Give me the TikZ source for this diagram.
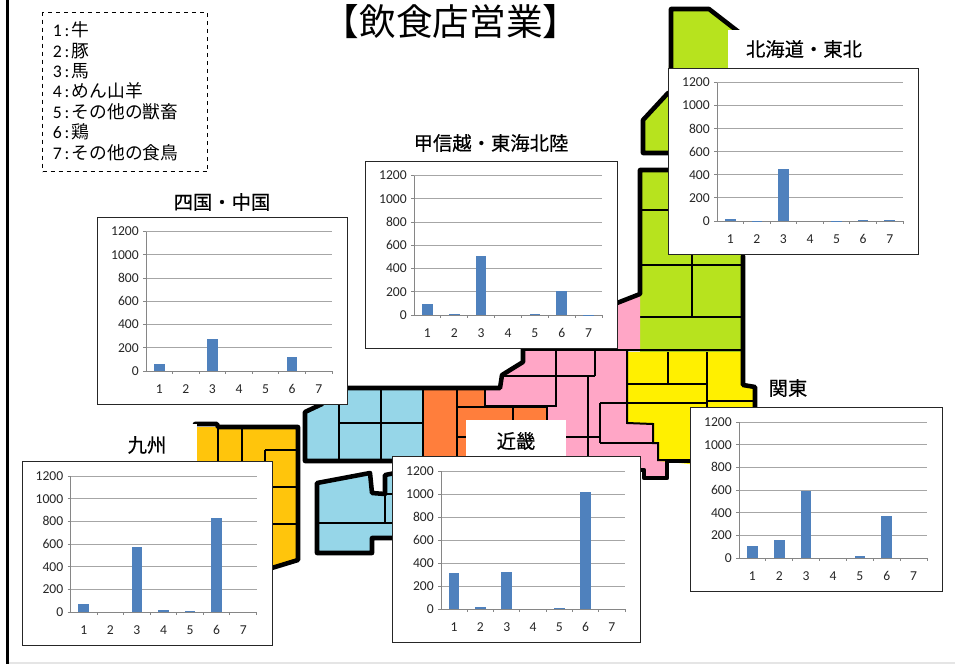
\documentclass[tikz,border=0pt]{standalone}
\usepackage{fontspec}
\setmainfont{Carlito}
\newfontfamily\cjk{Noto Sans CJK JP}
\newfontfamily\cjkheavy[FakeBold=0.35]{Noto Sans CJK JP}
\definecolor{cgreen}{HTML}{B7E31E}
\definecolor{cpink}{HTML}{FFA6C6}
\definecolor{cyellow}{HTML}{FFF000}
\definecolor{corange}{HTML}{FF7E3C}
\definecolor{cblue}{HTML}{96D6E8}
\definecolor{cgold}{HTML}{FFC50C}
\definecolor{cbar}{HTML}{4F81BD}
\definecolor{cgrid}{HTML}{A6A6A6}
\definecolor{caxis}{HTML}{868686}
\definecolor{ctext}{HTML}{262626}
\tikzset{
  inner/.style={draw=black,line width=1.5pt},
  coast/.style={draw=black,line width=3.4pt,line join=round,line cap=round},
  chartbox/.style={draw=black!85,line width=1pt,fill=white},
  gridline/.style={draw=cgrid,line width=0.75pt},
  axisline/.style={draw=caxis,line width=0.75pt},
  barfill/.style={fill=cbar},
  ticklabel/.style={font=\fontsize{10.2}{11}\selectfont,text=ctext,inner sep=0pt},
  regiontitle/.style={font=\cjkheavy\fontsize{14.5}{15}\selectfont,text=black,inner sep=0pt},
  whitepatch/.style={fill=white,draw=none},
}
\newcommand{\legline}[2]{\makebox[14.3pt][l]{#1\,:}{\cjk #2}}
% #1 name, #2 left, #3 top, #4 width, #5 height, #6 values
\newcommand{\barchart}[6]{%
  \begin{scope}[shift={(#2,#3)}]
    \node[chartbox,inner sep=0pt,anchor=north west,
          minimum width=#4*0.75pt,minimum height=#5*0.75pt] (#1) at (0,0) {};
    \pgfmathsetmacro{\pzero}{#5-33}
    \pgfmathsetmacro{\pscale}{(#5-33-15)/1200}
    \pgfmathsetmacro{\pstep}{(#4-49-15)/7}
    \foreach \g in {200,400,...,1200}{
      \draw[gridline] (49,{\pzero-\g*\pscale}) -- (#4-15,{\pzero-\g*\pscale});
    }
    \foreach \g in {0,200,...,1200}{
      \draw[axisline] (46,{\pzero-\g*\pscale}) -- (49,{\pzero-\g*\pscale});
      \node[ticklabel,anchor=east] at (42,{\pzero-\g*\pscale}) {\g};
    }
    \draw[axisline] (49,{\pzero-1200*\pscale}) -- (49,\pzero) -- (#4-15,\pzero);
    \foreach \v [count=\i] in {#6}{
      \pgfmathsetmacro{\cx}{49+(\i-0.5)*\pstep}
      \ifdim\v pt>0pt
        \fill[barfill] ({\cx-5.3},\pzero) rectangle ({\cx+5.3},{\pzero-\v*\pscale});
      \fi
      \draw[axisline] ({49+\i*\pstep},\pzero) -- ({49+\i*\pstep},\pzero+3);
      \node[ticklabel] at (\cx,\pzero+18) {\i};
    }
  \end{scope}
}
\begin{document}
\begin{tikzpicture}[x=0.75pt,y=-0.75pt]
\useasboundingbox (0,0) rectangle (955,664);
\fill[white] (0,0) rectangle (955,664);
% page edges
\draw[draw=black,line width=2.2pt] (7.5,0) -- (7.5,664);
\draw[draw=black!10,line width=0.8pt] (9,663) -- (955,663);
% Hokkaido and Tohoku
\fill[cgreen] (671,9) -- (709,9) -- (740,35) -- (740,153) -- (643,153) -- (643,120) -- (668,93) -- cycle;
\draw[coast] (668,93) -- (643,120) -- (643,153) -- (680,153);
\draw[coast] (671,93) -- (671,9) -- (709,9) -- (740,33);
\fill[cgreen] (640,170) -- (740,170) -- (743,256) -- (743,352) -- (640,352) -- cycle;
\draw[inner] (640,210) -- (692,210) (640,265) -- (743,265) (640,317) -- (743,317) (692,210) -- (692,317);
% Pink
\fill[cpink] (617,303) -- (640,294) -- (640,350) -- (627,350) -- (627,423) -- (653,423) -- (653,443) -- (658,443) -- (658,461) -- (667,461) -- (667,478) -- (644,478) -- (644,470) -- (560,470) -- (547,456) -- (547,407) -- (485,407) -- (485,390) -- (500,388) -- (502,375) -- (523,362) -- (523,340) -- cycle;
\draw[inner] (523,350) -- (640,350) (556,350) -- (556,407) (595,350) -- (595,376) (502,376) -- (595,376) (588,376) -- (588,470) (485,406) -- (556,406) (600,403) -- (600,443) (600,403) -- (627,403) (600,443) -- (653,443) (547,437) -- (600,437);
% Yellow
\fill[cyellow] (627,352) -- (743,352) -- (743,385) -- (755,387) -- (755,420) -- (700,465) -- (658,461) -- (658,443) -- (653,443) -- (653,425) -- (627,423) -- cycle;
\draw[inner] (627,350) -- (743,350) (627,350) -- (627,423) -- (653,424) -- (653,443) -- (658,443) -- (658,460) -- (700,460);
\draw[inner] (668,352) -- (668,384) (707,352) -- (707,407) (627,384) -- (707,384) (627,403) -- (707,403) (707,401) -- (755,401);
% Orange
\fill[corange] (423,388) -- (485,388) -- (485,407) -- (547,407) -- (547,470) -- (423,470) -- cycle;
\draw[inner] (423,388) -- (423,470) (457,388) -- (457,470) (485,388) -- (485,407) (457,407) -- (547,407) (457,437) -- (480,437) (513,407) -- (513,430) (547,407) -- (547,430);
% Blue Honshu
\fill[cblue] (305,412) -- (347,388) -- (423,388) -- (423,461) -- (305,461) -- cycle;
\draw[inner] (339,395) -- (339,461) (381,388) -- (381,461) (339,423) -- (423,423) (423,388) -- (423,461);
% Honshu coast
\draw[coast] (392,461) -- (305,461) -- (305,412) -- (322,404);
\draw[coast] (340,388) -- (500,388) -- (502,375) -- (523,362) -- (523,345);
\draw[coast] (617,303) -- (640,294) -- (640,170) -- (680,170);
\draw[coast] (743,256) -- (743,385) -- (755,387) -- (755,410);
\draw[coast] (695,461) -- (667,461) -- (667,478) -- (644,478) -- (644,470) -- (636,470);
% Shikoku
\fill[cblue] (317,483) -- (370,473) -- (372,493) -- (385,494) -- (385,475) -- (400,473) -- (400,538) -- (372,538) -- (372,553) -- (317,553) -- cycle;
\draw[inner] (317,523) -- (400,523) (385,494) -- (385,523) (385,494) -- (400,494);
\draw[coast] (395,473) -- (385,475) -- (385,494) -- (372,493) -- (370,473) -- (317,483) -- (317,553) -- (372,553) -- (372,538) -- (400,538);
% Kyushu
\fill[cgold] (190,427) -- (298,427) -- (298,560) -- (260,572) -- (190,572) -- cycle;
\draw[inner] (218,427) -- (218,470) (242,427) -- (242,470) (265,450) -- (298,450) (265,450) -- (265,470) (265,487) -- (298,487) (265,524) -- (298,524);
\draw[coast] (195,424) -- (217,424) -- (218,427) -- (298,427) -- (298,560) -- (262,571);
% White title patches
\fill[whitepatch] (728,30) rectangle (884,68);
\fill[whitepatch] (466,420) rectangle (566,457);
\fill[whitepatch] (100,424) rectangle (197,462);
% Charts
\barchart{chartkanto}{690}{407}{252}{184}{110,160,590,0,15,370,0}
\barchart{charthokkaido}{668}{67.5}{250}{186.5}{20,3,450,0,3,10,8}
\barchart{chartkoshin}{365}{160.5}{252}{187.5}{95,5,505,0,5,210,3}
\barchart{chartshikoku}{97}{216.5}{250}{187.5}{60,0,275,0,0,120,0}
\barchart{chartkyushu}{21.5}{461}{250}{184}{70,0,575,20,5,830,0}
\barchart{chartkinki}{392}{456}{248}{186}{310,15,320,0,10,1015,0}
% Titles
\node[font=\cjk\fontsize{27.5}{29}\selectfont,inner sep=0pt] (maintitle) at (451,22) {【飲食店営業】};
\node[regiontitle] (thokkaido) at (804,49) {北海道・東北};
\node[regiontitle] (tkoshin) at (491,143) {甲信越・東海北陸};
\node[regiontitle] (tshikoku) at (222,202) {四国・中国};
\node[regiontitle] (tkanto) at (788,388) {関東};
\node[regiontitle] (tkinki) at (516,441) {近畿};
\node[regiontitle] (tkyushu) at (147,445) {九州};
% Legend
\node[draw=black,dashed,line width=1.1pt,fill=white,anchor=north west,minimum width=165*0.75pt,minimum height=159*0.75pt,inner sep=0pt] (legendbox) at (42,12) {};
\node[anchor=north west,inner sep=0pt,align=left,font=\fontsize{13.3}{15.3}\selectfont,text=black] (legendtext) at (52.5,21.5) {\legline{1}{牛}\\\legline{2}{豚}\\\legline{3}{馬}\\\legline{4}{めん山羊}\\\legline{5}{その他の獣畜}\\\legline{6}{鶏}\\\legline{7}{その他の食鳥}};
\end{tikzpicture}
\end{document}
